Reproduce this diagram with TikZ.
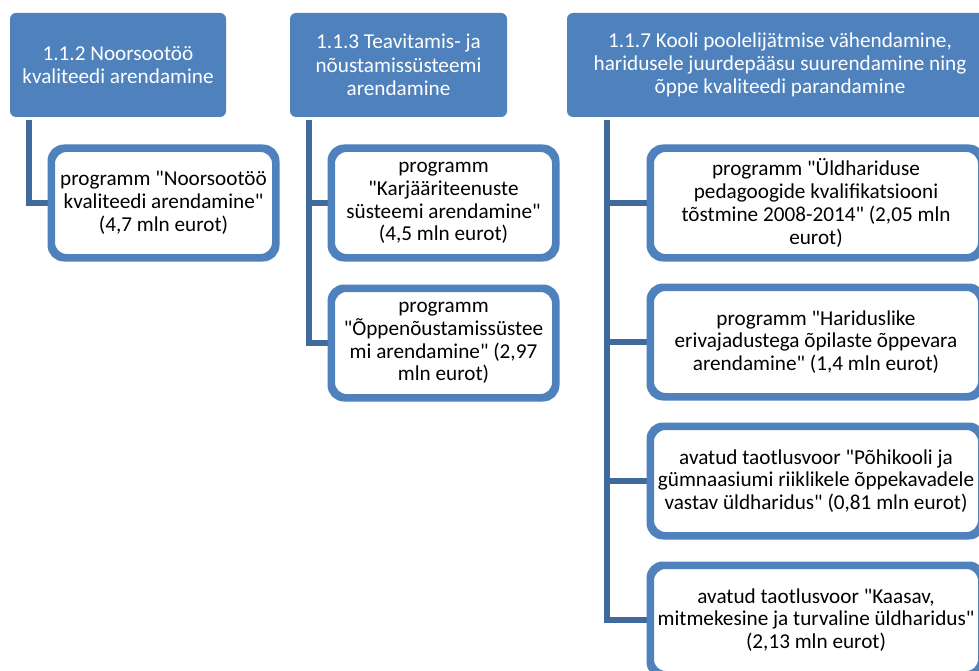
\documentclass[tikz,border=0pt]{standalone}
\usepackage{fontspec}
\setmainfont{Carlito}[Ligatures=TeXOff]
\definecolor{accent}{HTML}{4F81BD}
\definecolor{connc}{HTML}{40699C}
\begin{document}
\begin{tikzpicture}[x=1pt,y=-1pt,
  hdr/.style={fill=accent, draw=none, rounded corners=6pt, text=white, align=center,
    inner sep=0pt, minimum height=104pt, font=\fontsize{21.2}{23.3}\selectfont},
  child/.style={fill=white, draw=accent, line width=5pt, rounded corners=14pt, text=black,
    align=center, inner sep=0pt, minimum height=107pt, font=\fontsize{21.2}{22.8}\selectfont},
  conn/.style={draw=connc, line width=6pt}]
\useasboundingbox (0,0) rectangle (979,671);
\clip (0,0) rectangle (979,671);
\fill[white] (0,0) rectangle (979,671);

% headers
\node[hdr, minimum width=216pt] (h1) at (118,65) {1.1.2 Noorsootöö\\kvaliteedi arendamine};
\node[hdr, minimum width=217pt] (h2) at (398.5,65) {1.1.3 Teavitamis- ja\\nõustamissüsteemi\\arendamine};
\node[hdr, minimum width=426pt] (h3) at (780,65) {1.1.7 Kooli poolelijätmise vähendamine,\\haridusele juurdepääsu suurendamine ning\\õppe kvaliteedi parandamine};

% connector start points
\coordinate (s1) at ([xshift=19.5pt,yshift=-3pt]h1.south west);
\coordinate (s2) at ([xshift=19pt,yshift=-3pt]h2.south west);
\coordinate (s3) at ([xshift=40.5pt,yshift=-3pt]h3.south west);

% children column 1
\node[child, minimum width=222pt] (c1) at (163.5,203) {programm "Noorsootöö\\kvaliteedi arendamine"\\(4,7 mln eurot)};
% column 2
\node[child, minimum width=222pt] (c2a) at (443.5,203) {programm\\"Karjääriteenuste\\süsteemi arendamine"\\(4,5 mln eurot)};
\node[child, minimum width=222pt] (c2b) at (443.5,343) {programm\\"Õppenõustamissüstee\\mi arendamine" (2,97\\mln eurot)};
% column 3
\node[child, minimum width=329pt] (c3a) at (816,203) {programm "Üldhariduse\\pedagoogide kvalifikatsiooni\\tõstmine 2008-2014" (2,05 mln\\eurot)};
\node[child, minimum width=329pt] (c3b) at (816,342) {programm "Hariduslike\\erivajadustega õpilaste õppevara\\arendamine" (1,4 mln eurot)};
\node[child, minimum width=329pt] (c3c) at (816,481) {avatud taotlusvoor "Põhikooli ja\\gümnaasiumi riiklikele õppekavadele\\vastav üldharidus" (0,81 mln eurot)};
\node[child, minimum width=329pt] (c3d) at (816,620) {avatud taotlusvoor "Kaasav,\\mitmekesine ja turvaline üldharidus"\\(2,13 mln eurot)};

\draw[conn] (s1) |- (c1.west);
\draw[conn] (s2) |- (c2a.west);
\draw[conn] (s2) |- (c2b.west);
\draw[conn] (s3) |- (c3a.west);
\draw[conn] (s3) |- (c3b.west);
\draw[conn] (s3) |- (c3c.west);
\draw[conn] (s3) |- (c3d.west);

% redraw children borders over connector ends
\foreach \n in {c1,c2a,c2b,c3a,c3b,c3c,c3d}{
  \draw[accent, line width=5pt, rounded corners=14pt] (\n.north west) rectangle (\n.south east);
}
\end{tikzpicture}
\end{document}
